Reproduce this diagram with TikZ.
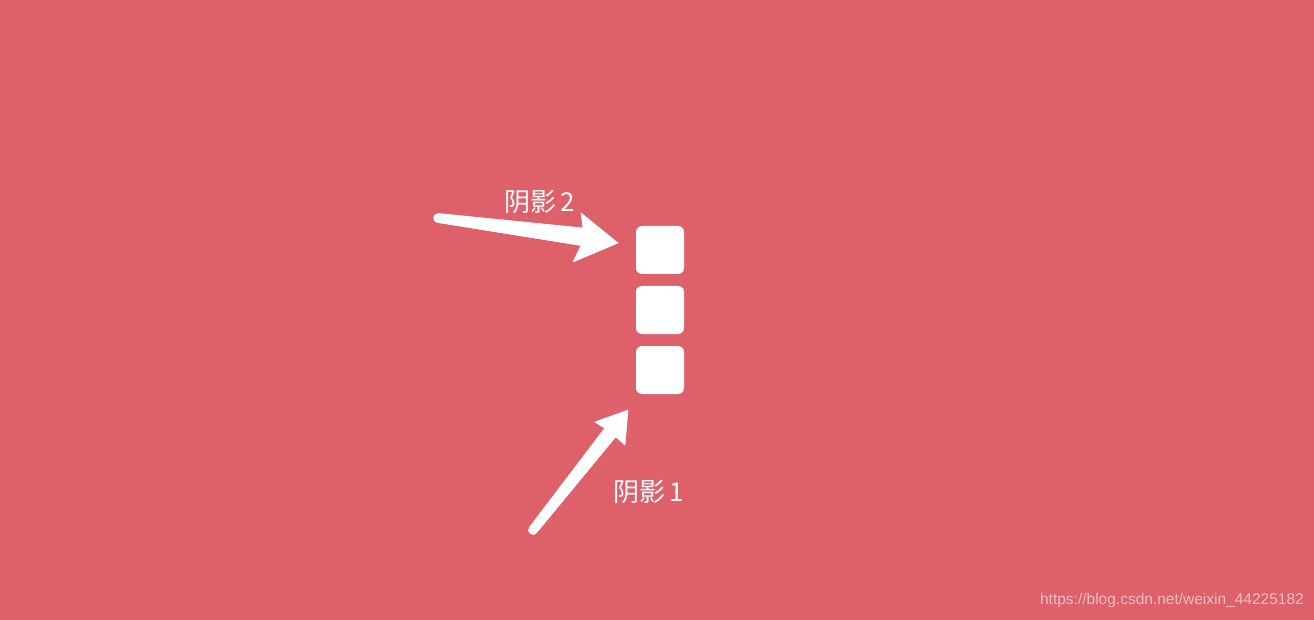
\documentclass[tikz,border=0pt]{standalone}
\usepackage{fontspec}
\setmainfont{Liberation Sans}
\newfontfamily\cjk{Noto Sans CJK SC}
\definecolor{bg}{RGB}{221,96,106}
\definecolor{wm}{RGB}{240,190,194}
\begin{document}
\begin{tikzpicture}[x=1pt,y=-1pt,
  sq/.style={fill=white,rounded corners=6pt,minimum width=48pt,minimum height=48pt,inner sep=0pt,draw=none},
  lbl/.style={text=white,font=\cjk\fontsize{26}{28}\selectfont,inner sep=0pt},
  arr/.style={fill=white,draw=white,line width=0.6pt,line join=round}]
\fill[bg] (0,0) rectangle (1314,620);
\useasboundingbox (0,0) rectangle (1314,620);
% squares
\node[sq] (s1) at (660,250) {};
\node[sq] (s2) at (660,310) {};
\node[sq] (s3) at (660,370) {};
% arrow 2 (upper)
\coordinate (t2) at (438,218);
\coordinate (p2) at (618,243);
\fill[arr] (438.6,213.5) -- (583,228) -- (581,213) -- (p2) -- (573,262) -- (581,245.5) -- (437.4,222.5)
  arc[start angle=262,end angle=82,radius=4.5pt] -- cycle;
% arrow 1 (lower)
\coordinate (t1) at (533,530);
\coordinate (p1) at (628,410);
\fill[arr] (536.5,532.8) -- (615.7,436.8) -- (625,445) -- (p1) -- (595,422) -- (604.7,428.2) -- (529.5,527.2)
  arc[start angle=141,end angle=321,radius=4.5pt] -- cycle;
% labels
\node[lbl] (l2) at (540,202) {阴影\hspace{4pt}2};
\node[lbl] (l1) at (648.5,492) {阴影\hspace{4pt}1};
\node[text=wm,font=\fontsize{15.5}{18}\selectfont,inner sep=0pt,anchor=east] (wmk) at (1304,600) {https://blog.csdn.net/weixin\_44225182};
\end{tikzpicture}
\end{document}
